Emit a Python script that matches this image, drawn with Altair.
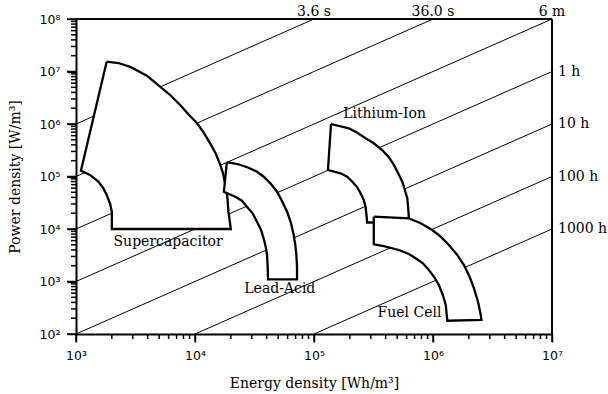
import altair as alt
import pandas as pd

# Outlines of each technology region: energy density [Wh/m^3], power density [W/m^3]
supercap_E = [1.81e3, 2.27e3, 2.85e3, 3.94e3, 5.09e3, 6.18e3, 7.5e3, 8.81e3, 1.04e4, 1.18e4,
              1.34e4, 1.50e4, 1.63e4, 1.72e4, 1.79e4, 1.87e4, 1.91e4, 2.0e4,
              2.0e3, 2.0e3, 2.0e3, 1.93e3, 1.81e3, 1.70e3, 1.54e3, 1.31e3, 1.10e3]
supercap_P = [1.54e7, 1.45e7, 1.23e7, 8.32e6, 5.13e6, 3.57e6, 2.30e6, 1.53e6, 1.03e6, 6.95e5,
              4.29e5, 2.68e5, 1.66e5, 1.15e5, 7.41e4, 4.07e4, 2.14e4, 1.0e4,
              1.0e4, 1.38e4, 2.14e4, 3.08e4, 4.45e4, 5.96e4, 7.98e4, 1.07e5, 1.29e5]

leadacid_E = [1.85e4, 1.91e4, 2.32e4, 2.82e4, 3.32e4, 3.78e4, 4.30e4, 4.89e4, 5.38e4, 5.94e4,
              6.41e4, 6.75e4, 6.97e4, 7.11e4, 7.2e4, 7.2e4,
              4.11e4, 4.08e4, 4.03e4, 3.93e4, 3.77e4, 3.59e4, 3.32e4, 3.05e4, 2.73e4,
              2.48e4, 2.18e4, 1.75e4]
leadacid_P = [1.83e5, 1.86e5, 1.71e5, 1.47e5, 1.23e5, 9.9e4, 7.41e4, 5.13e4, 3.41e4, 2.14e4,
              1.29e4, 7.69e3, 4.95e3, 3.2e3, 1.91e3, 1.1e3,
              1.1e3, 1.91e3, 3.2e3, 4.60e3, 6.65e3, 9.57e3, 1.38e4, 1.99e4, 2.66e4,
              3.46e4, 4.12e4, 5.13e4]

liion_E = [1.39e5, 1.96e5, 2.31e5, 2.71e5, 3.18e5, 3.74e5, 4.26e5, 4.69e5, 5.10e5, 5.52e5,
           5.80e5, 6.08e5, 6.19e5, 6.27e5, 6.35e5,
           2.80e5, 2.76e5, 2.71e5, 2.62e5, 2.46e5, 2.31e5, 2.10e5, 1.90e5, 1.67e5, 1.31e5]
liion_P = [1.0e6, 8.28e5, 6.82e5, 5.35e5, 4.29e5, 3.2e5, 2.32e5, 1.66e5, 1.15e5, 7.96e4,
           5.53e4, 3.85e4, 2.48e4, 1.6e4, 1.33e4,
           1.33e4, 1.85e4, 2.66e4, 3.56e4, 4.79e4, 6.22e4, 7.96e4, 9.91e4, 1.15e5, 1.33e5]

fuelcell_E = [3.18e5, 6.27e5, 7.87e5, 9.86e5, 1.16e6, 1.36e6, 1.60e6, 1.82e6, 2.03e6, 2.21e6,
              2.39e6, 2.52e6, 2.55e6,
              1.32e6, 1.30e6, 1.28e6, 1.21e6, 1.12e6, 1.02e6, 9.23e5, 8.22e5, 7.14e5,
              6.27e5, 5.16e5, 3.86e5, 3.18e5]
fuelcell_P = [1.72e4, 1.6e4, 1.29e4, 9.57e3, 7.13e3, 4.95e3, 3.20e3, 2.06e3, 1.23e3, 741,
              412, 230, 185,
              179, 248, 356, 553, 857, 1.23e3, 1.66e3, 2.22e3, 2.77e3,
              3.34e3, 3.98e3, 4.74e3, 5.11e3]

# Region labels
label_text = ["Supercapacitor", "Lead-Acid", "Lithium-Ion", "Fuel Cell"]
label_E = [5.94e3, 5.16e4, 3.92e5, 6.35e5]
label_P = [5.65e3, 720, 1.55e6, 255]

# Lines of constant discharge time (endpoints on the plot frame)
time_lines_E1 = [1e3, 1e3, 1e3, 1e3, 1e3, 1e4, 1e5]
time_lines_P1 = [1e6, 1e5, 1e4, 1e3, 1e2, 1e2, 1e2]
time_lines_E2 = [1e5, 1e6, 1e7, 1e7, 1e7, 1e7, 1e7]
time_lines_P2 = [1e8, 1e8, 1e8, 1e7, 1e6, 1e5, 1e4]

top_labels = ["3.6 s", "36.0 s", "6 m"]
top_labels_E = [1e5, 1e6, 1e7]
right_labels = ["1 h", "10 h", "100 h", "1000 h"]
right_labels_P = [1e7, 1e6, 1e5, 1e4]

# Axis extents and ticks: decades get labels, 2..9 multiples are minor ticks
E_range = [1e3, 1e7]
P_range = [1e2, 1e8]
x_major = [1e3, 1e4, 1e5, 1e6, 1e7]
y_major = [1e2, 1e3, 1e4, 1e5, 1e6, 1e7, 1e8]
x_minor = [m * 10 ** d for d in range(3, 7) for m in range(2, 10)]
y_minor = [m * 10 ** d for d in range(2, 8) for m in range(2, 10)]

SERIF = "DejaVu Serif"
SANS = "DejaVu Sans"
TXT = 14

sup_expr = ("'10' + ['⁰','¹','²','³','⁴','⁵','⁶','⁷','⁸','⁹']"
            "[round(log(datum.value)/LN10)]")

xscale = alt.Scale(type="log", domain=E_range)
yscale = alt.Scale(type="log", domain=P_range)

axis_style = dict(
    labelExpr=sup_expr, labelFlush=False, labelOverlap=False, grid=False,
    domainColor="black", domainWidth=2, tickColor="black", tickWidth=1.5,
    labelFont=SANS, labelFontSize=12.5, labelColor="black", labelPadding=7,
    titleFont=SERIF, titleFontSize=TXT, titleFontWeight="normal", titleColor="black",
    titleBaseline="middle", zindex=1,
)
xaxis = alt.Axis(values=x_major, tickSize=8, title="Energy density [Wh/m³]",
                 titleY=49, **axis_style)
yaxis = alt.Axis(values=y_major, tickSize=9, title="Power density [W/m³]",
                 titleX=-61, **axis_style)

lines_df = pd.DataFrame({"E1": time_lines_E1, "P1": time_lines_P1,
                         "E2": time_lines_E2, "P2": time_lines_P2})
time_lines = alt.Chart(lines_df).mark_rule(color="black", strokeWidth=1).encode(
    x=alt.X("E1:Q", scale=xscale, axis=xaxis),
    y=alt.Y("P1:Q", scale=yscale, axis=yaxis),
    x2="E2:Q", y2="P2:Q",
)

# Top and right edges of the frame
frame_df = pd.DataFrame({"E1": [E_range[0], E_range[1]], "E2": [E_range[1], E_range[1]],
                         "P1": [P_range[1], P_range[0]], "P2": [P_range[1], P_range[1]]})
frame = alt.Chart(frame_df).mark_rule(color="black", strokeWidth=2).encode(
    x=alt.X("E1:Q", scale=xscale), x2="E2:Q",
    y=alt.Y("P1:Q", scale=yscale), y2="P2:Q",
)


# Tick marks along the bottom and left edges, as small filled bars
def x_ticks(values, length):
    return alt.Chart(pd.DataFrame({"E": values})).mark_tick(
        color="black", orient="vertical", size=length, thickness=1.5, opacity=1
    ).encode(x=alt.X("E:Q", scale=xscale), y=alt.value(315 + length / 2))


def y_ticks(values, length):
    return alt.Chart(pd.DataFrame({"P": values})).mark_tick(
        color="black", orient="horizontal", size=length, thickness=1.5, opacity=1
    ).encode(y=alt.Y("P:Q", scale=yscale), x=alt.value(-length / 2))


tick_layers = [x_ticks(x_minor, 5), x_ticks(x_major, 8), y_ticks(y_minor, 5), y_ticks(y_major, 9)]


def region(E, P):
    n = len(E)
    df = pd.DataFrame({"E": E + [E[0]], "P": P + [P[0]], "idx": list(range(n + 1))})
    return alt.Chart(df).mark_line(fill="white", stroke="black", strokeWidth=2.3,
                                   strokeJoin="miter").encode(
        x=alt.X("E:Q", scale=xscale),
        y=alt.Y("P:Q", scale=yscale),
        order="idx:Q",
    )


shapes = [region(supercap_E, supercap_P), region(leadacid_E, leadacid_P),
          region(liion_E, liion_P), region(fuelcell_E, fuelcell_P)]

labels = alt.Chart(pd.DataFrame({"t": label_text, "E": label_E, "P": label_P})).mark_text(
    font=SERIF, fontSize=TXT, color="black", baseline="middle", align="center"
).encode(x=alt.X("E:Q", scale=xscale), y=alt.Y("P:Q", scale=yscale), text="t:N")

top_df = pd.DataFrame({"t": top_labels, "E": top_labels_E, "P": [1e8] * len(top_labels)})
top_text = alt.Chart(top_df).mark_text(
    font=SERIF, fontSize=TXT, color="black", baseline="alphabetic", align="center", dy=-3
).encode(x=alt.X("E:Q", scale=xscale), y=alt.Y("P:Q", scale=yscale), text="t:N")

right_df = pd.DataFrame({"t": right_labels, "E": [1e7] * len(right_labels), "P": right_labels_P})
right_text = alt.Chart(right_df).mark_text(
    font=SERIF, fontSize=TXT, color="black", baseline="middle", align="left", dx=6
).encode(x=alt.X("E:Q", scale=xscale), y=alt.Y("P:Q", scale=yscale), text="t:N")

chart = alt.layer(
    time_lines, *shapes, frame, *tick_layers, labels, top_text, right_text
).properties(
    width=476, height=315,
    background="white",
    autosize=alt.AutoSizeParams(type="none"),
    padding={"left": 76, "top": 19, "right": 56, "bottom": 60},
)

chart.save("out.html", embed_options={"renderer": "svg", "actions": False})
